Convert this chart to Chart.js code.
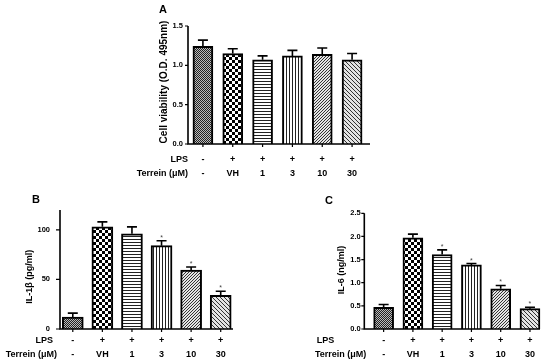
<!DOCTYPE html>
<html><head><meta charset="utf-8">
<script src="https://cdn.jsdelivr.net/npm/chart.js@4.4.0/dist/chart.umd.min.js"></script>
<style>
html,body{margin:0;padding:0;background:#fff;}
body{width:550px;height:364px;position:relative;overflow:hidden;}
.p{position:absolute;}
</style></head><body>
<div class="p" style="left:100px;top:0px;"><canvas id="cA" width="290" height="182" style="width:290px;height:182px"></canvas></div>
<div class="p" style="left:0px;top:185px;"><canvas id="cB" width="270" height="179" style="width:270px;height:179px"></canvas></div>
<div class="p" style="left:270px;top:185px;"><canvas id="cC" width="280" height="179" style="width:280px;height:179px"></canvas></div>
<script>
// ---- data ----
const lpsRow = ['-', '+', '+', '+', '+', '+'];
const terreinRow = ['-', 'VH', '1', '3', '10', '30'];

const viabilityMean = [1.24, 1.15, 1.07, 1.12, 1.14, 1.07];
const viabilitySem  = [0.08, 0.06, 0.05, 0.07, 0.08, 0.08];
const viabilitySig  = [false, false, false, false, false, false];
const viabilityTicks = [0, 0.5, 1.0, 1.5];
const viabilityTickLabels = ['0.0', '0.5', '1.0', '1.5'];

const il1bMean = [12, 103, 96, 84, 59.5, 34];
const il1bSem  = [4, 5, 7, 5, 3, 4];
const il1bSig  = [false, false, false, true, true, true];
const il1bTicks = [0, 50, 100];
const il1bTickLabels = ['0', '50', '100'];

const il6Mean = [0.47, 1.97, 1.61, 1.385, 0.87, 0.44];
const il6Sem  = [0.06, 0.08, 0.10, 0.03, 0.07, 0.03];
const il6Sig  = [false, false, true, true, true, true];
const il6Ticks = [0, 0.5, 1.0, 1.5, 2.0, 2.5];
const il6TickLabels = ['0.0', '0.5', '1.0', '1.5', '2.0', '2.5'];

const categories = lpsRow.map((l, i) => [l, terreinRow[i]]);

const FONT = '"Liberation Sans", Arial, sans-serif';
Chart.defaults.font.family = FONT;
Chart.defaults.color = '#000';

// fill patterns for the six groups
const patternSpecs = [
  { w: 2, h: 2, bg: '#bbb', fg: '#222', cells: [[0,0],[1,1]] },
  { w: 6, h: 6, bg: '#fff', fg: '#000', cells: [[0,0,3,3],[3,3,3,3]] },
  { w: 1, h: 3, bg: '#fff', fg: '#222', cells: [[0,0]] },
  { w: 3, h: 1, bg: '#fff', fg: '#222', cells: [[0,0]] },
  { w: 3, h: 3, bg: '#e4e4e4', fg: '#333', cells: [[2,0],[1,1],[0,2]] },
  { w: 4, h: 4, bg: '#e4e4e4', fg: '#333', cells: [[0,0],[1,1],[2,2],[3,3]] }
];
function makePatterns(ctx) {
  return patternSpecs.map(s => {
    const pc = document.createElement('canvas');
    pc.width = s.w; pc.height = s.h;
    const g = pc.getContext('2d');
    g.fillStyle = s.bg; g.fillRect(0, 0, s.w, s.h);
    g.fillStyle = s.fg;
    s.cells.forEach(r => g.fillRect(r[0], r[1], r[2] || 1, r[3] || 1));
    return ctx.createPattern(pc, 'repeat');
  });
}

const deco = {
  id: 'deco',
  afterDatasetsDraw(chart) {
    const cfg = chart.options.plugins.deco;
    const ctx = chart.ctx;
    const y = chart.scales.y;
    const meta = chart.getDatasetMeta(0);
    ctx.save();
    ctx.strokeStyle = '#000';
    ctx.lineWidth = 1.6;
    meta.data.forEach((bar, i) => {
      const top = y.getPixelForValue(cfg.mean[i] + cfg.sem[i]);
      const base = y.getPixelForValue(cfg.mean[i]);
      ctx.beginPath();
      ctx.moveTo(bar.x, base);
      ctx.lineTo(bar.x, top);
      ctx.moveTo(bar.x - 5, top);
      ctx.lineTo(bar.x + 5, top);
      ctx.stroke();
      if (cfg.sig[i]) {
        ctx.fillStyle = '#444';
        ctx.font = '7px ' + FONT;
        ctx.textAlign = 'center';
        ctx.textBaseline = 'alphabetic';
        ctx.fillText('*', bar.x, top - 1);
      }
    });
    ctx.restore();
  },
  afterDraw(chart) {
    const cfg = chart.options.plugins.deco;
    const ctx = chart.ctx;
    const y = chart.scales.y, x = chart.scales.x;
    const area = chart.chartArea;
    const ax = area.left + cfg.axisOff;
    const y0 = y.getPixelForValue(0);
    ctx.save();
    ctx.strokeStyle = '#000';
    ctx.lineWidth = 1.6;
    ctx.beginPath();
    ctx.moveTo(ax, y.getPixelForValue(y.max));
    ctx.lineTo(ax, y0 + 0.8);
    ctx.moveTo(ax - 0.8, y0);
    ctx.lineTo(area.right + cfg.xExt, y0);
    ctx.stroke();
    ctx.lineWidth = 1.2;
    ctx.beginPath();
    y.ticks.forEach(t => {
      const py = y.getPixelForValue(t.value);
      ctx.moveTo(ax - cfg.tickLen, py);
      ctx.lineTo(ax, py);
    });
    x.ticks.forEach((t, i) => {
      const px = x.getPixelForTick(i);
      ctx.moveTo(px, y0);
      ctx.lineTo(px, y0 + 3);
    });
    ctx.stroke();
    // panel letter
    ctx.fillStyle = '#000';
    ctx.font = 'bold 11px ' + FONT;
    ctx.textAlign = 'left';
    ctx.textBaseline = 'middle';
    ctx.fillText(cfg.letter, cfg.letterX, cfg.letterY);
    // row titles
    ctx.font = 'bold 9px ' + FONT;
    ctx.textAlign = cfg.rowAlign;
    const r1 = area.bottom + cfg.xPad + 7;
    ctx.fillText('LPS', cfg.lpsX, r1);
    ctx.fillText('Terrein (\u03BCM)', cfg.terX, r1 + 14);
    // y title
    ctx.translate(cfg.titleX, cfg.titleY);
    ctx.rotate(-Math.PI / 2);
    ctx.textAlign = 'center';
    ctx.font = 'bold ' + cfg.titleSize + 'px ' + FONT;
    ctx.fillText(cfg.title, 0, 0);
    ctx.restore();
  }
};

function makePanel(id, cfg) {
  const canvas = document.getElementById(id);
  const patterns = makePatterns(canvas.getContext('2d'));
  return new Chart(canvas, {
    type: 'bar',
    data: {
      labels: categories,
      datasets: [{
        data: cfg.mean,
        backgroundColor: patterns,
        borderColor: '#000',
        borderWidth: 2,
        borderSkipped: 'bottom',
        barThickness: cfg.barW
      }]
    },
    options: {
      responsive: false,
      animation: false,
      events: [],
      layout: { padding: { left: 0, right: cfg.padR, top: cfg.top, bottom: 0 } },
      plugins: { legend: { display: false }, tooltip: { enabled: false }, deco: cfg },
      scales: {
        x: {
          offset: true,
          grid: { display: false, drawTicks: false },
          border: { display: false },
          ticks: {
            autoSkip: false, maxRotation: 0, minRotation: 0,
            padding: cfg.xPad, color: '#000',
            font: { family: FONT, weight: 'bold', size: 9, lineHeight: 14 / 9 }
          },
          afterFit: s => { s.height = cfg.xH; }
        },
        y: {
          min: 0, max: cfg.max,
          grid: { display: false, drawTicks: false },
          border: { display: false },
          afterBuildTicks: s => { s.ticks = cfg.ticks.map(v => ({ value: v })); },
          ticks: {
            autoSkip: false, padding: cfg.yPad, color: '#000',
            font: { family: FONT, weight: 'bold', size: cfg.tickSize },
            callback: (v, i) => cfg.tickLabels[i]
          },
          afterFit: s => { s.width = cfg.left; }
        }
      }
    },
    plugins: [deco]
  });
}

makePanel('cA', {
  mean: viabilityMean, sem: viabilitySem, sig: viabilitySig,
  ticks: viabilityTicks, tickLabels: viabilityTickLabels, max: 1.5,
  left: 88, padR: 23, top: 26, xH: 38, xPad: 9, yPad: 5, tickLen: 3, tickSize: 7.5,
  axisOff: 0, xExt: 3, barW: 20,
  letter: 'A', letterX: 59, letterY: 10,
  rowAlign: 'right', lpsX: 88, terX: 88,
  title: 'Cell viability (O.D. 495nm)', titleX: 64, titleY: 82, titleSize: 10
});
makePanel('cB', {
  mean: il1bMean, sem: il1bSem, sig: il1bSig,
  ticks: il1bTicks, tickLabels: il1bTickLabels, max: 120,
  left: 58, padR: 34.5, top: 25, xH: 35, xPad: 5, yPad: 8, tickLen: 4, tickSize: 7.5,
  axisOff: 2, xExt: -2.5, barW: 21,
  letter: 'B', letterX: 32, letterY: 15,
  rowAlign: 'right', lpsX: 53, terX: 57,
  title: 'IL-1\u03B2 (pg/ml)', titleX: 30, titleY: 91.7, titleSize: 9
});
makePanel('cC', {
  mean: il6Mean, sem: il6Sem, sig: il6Sig,
  ticks: il6Ticks, tickLabels: il6TickLabels, max: 2.5,
  left: 99, padR: 5.4, top: 28.3, xH: 35, xPad: 5, yPad: 8.3, tickLen: 3, tickSize: 7.5,
  axisOff: -4.7, xExt: -4.6, barW: 20,
  letter: 'C', letterX: 55, letterY: 15.5,
  rowAlign: 'left', lpsX: 46.7, terX: 45,
  title: 'IL-6 (ng/ml)', titleX: 71.7, titleY: 85, titleSize: 9
});
</script>
</body></html>
